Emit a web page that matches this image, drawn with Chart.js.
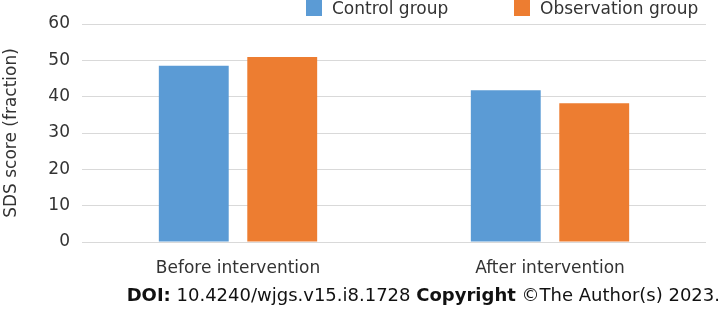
<!DOCTYPE html>
<html>
<head>
<meta charset="utf-8">
<script src="https://cdn.jsdelivr.net/npm/chart.js@4/dist/chart.umd.min.js"></script>
<style>
  html, body { margin: 0; padding: 0; background: #fff; }
  #wrap { position: relative; width: 725px; height: 309px; }
  #c { position: absolute; left: 0; top: 0; }
  #footer { position: absolute; right: 5px; top: 284px; font-family: "DejaVu Sans", Verdana, sans-serif; font-size: 18px; color: #111; white-space: nowrap; }
  #footer b { font-weight: bold; }
</style>
</head>
<body>
<div id="wrap">
  <canvas id="c" width="725" height="309"></canvas>
  <div id="footer"><b>DOI:</b> 10.4240/wjgs.v15.i8.1728 <b>Copyright</b> ©The Author(s) 2023.</div>
</div>
<script>
const categories = ["Before intervention", "After intervention"];
const seriesNames = ["Control group", "Observation group"];
const controlValues = [48.5, 41.8];
const observationValues = [50.9, 38.2];
const yTicks = [0, 10, 20, 30, 40, 50, 60];
const colors = ["#5b9bd5", "#ed7d31"];

const FONT = "'DejaVu Sans', Verdana, sans-serif";
const TEXT = "#333333";

const legendPlugin = {
  id: 'customLegend',
  afterDraw(chart) {
    const ctx = chart.ctx;
    ctx.save();
    ctx.font = "17px " + FONT;
    ctx.textBaseline = "middle";
    const positions = [306, 514];
    chart.data.datasets.forEach((ds, i) => {
      const x = positions[i];
      ctx.fillStyle = ds.backgroundColor;
      ctx.fillRect(x, 0, 16, 16);
      ctx.fillStyle = TEXT;
      ctx.fillText(ds.label, x + 26, 10);
    });
    ctx.restore();
  }
};

new Chart(document.getElementById('c'), {
  type: 'bar',
  data: {
    labels: categories,
    datasets: [
      { label: seriesNames[0], data: controlValues, backgroundColor: colors[0] },
      { label: seriesNames[1], data: observationValues, backgroundColor: colors[1] }
    ]
  },
  plugins: [legendPlugin],
  options: {
    responsive: false,
    animation: false,
    events: [],
    layout: { padding: { left: 0, right: 19, top: 24, bottom: 33 } },
    datasets: { bar: { categoryPercentage: 0.567, barPercentage: 0.79 } },
    plugins: { legend: { display: false }, tooltip: { enabled: false } },
    scales: {
      x: {
        afterFit(scale) { scale.height = 34; },
        grid: { display: false, drawTicks: false },
        border: { display: false },
        ticks: { color: TEXT, font: { family: FONT, size: 17 }, padding: 16 }
      },
      y: {
        min: 0, max: 60,
        afterBuildTicks(scale) { scale.ticks = yTicks.map(v => ({ value: v })); },
        afterFit(scale) { scale.width = 82; },
        grid: { color: "#d9d9d9", lineWidth: 1, drawTicks: false },
        border: { display: false },
        ticks: { color: TEXT, font: { family: FONT, size: 17 }, padding: 12 },
        title: { display: true, text: "SDS score (fraction)", color: TEXT, font: { family: FONT, size: 17 }, padding: { top: 1, bottom: 0 } }
      }
    }
  }
});
</script>
</body>
</html>
